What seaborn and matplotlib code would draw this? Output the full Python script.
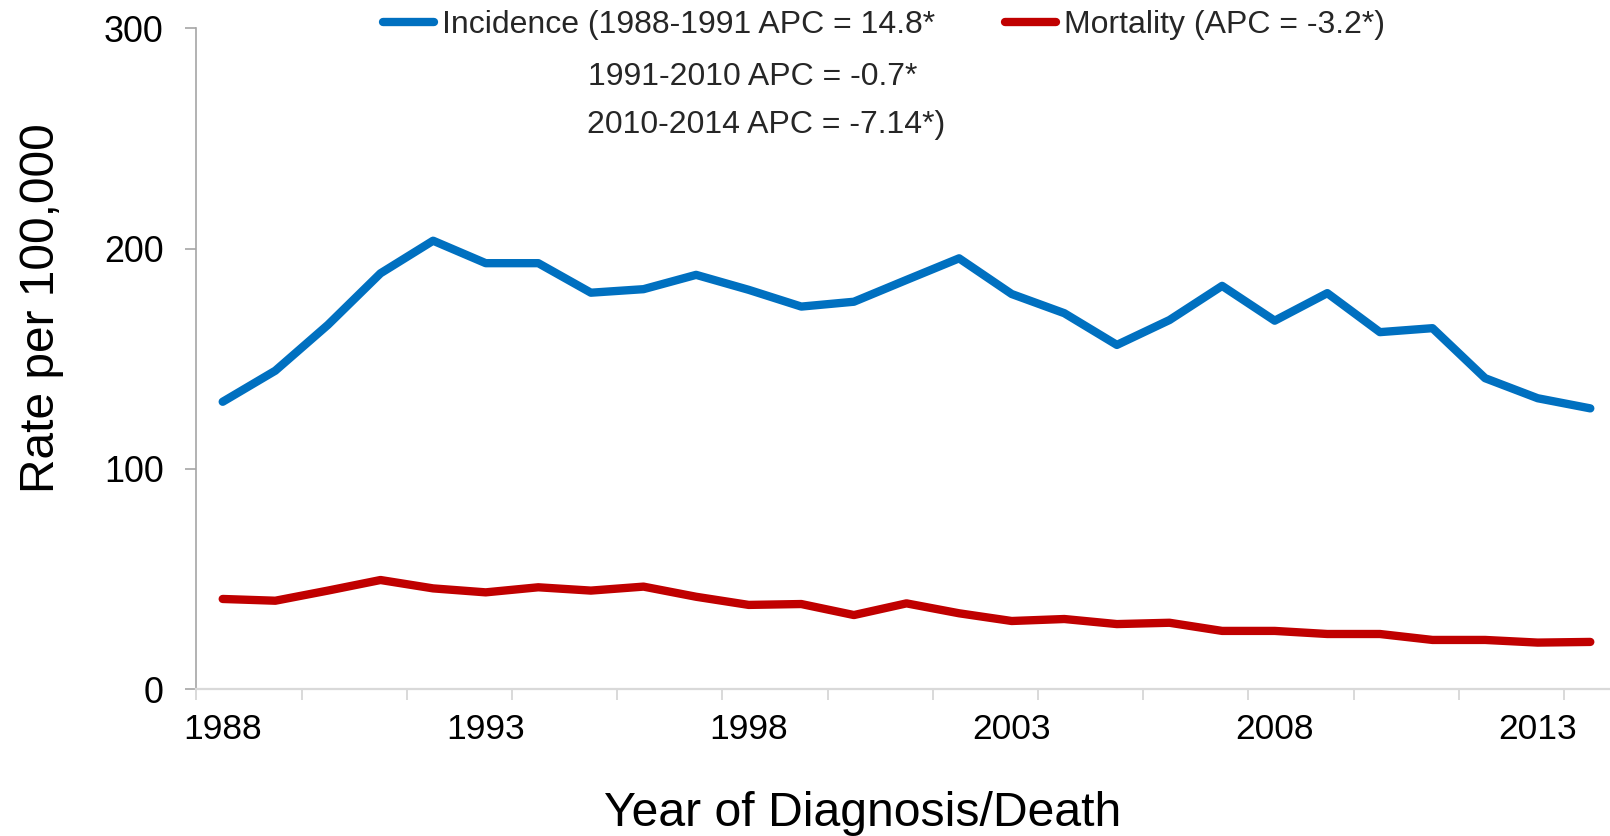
import matplotlib
matplotlib.use("Agg")
import matplotlib.pyplot as plt
from matplotlib.lines import Line2D
import seaborn as sns
import pandas as pd
import numpy as np

years = list(range(1988, 2015))
incidence = [130.5, 144.6, 165.4, 188.8, 203.6, 193.4, 193.4, 180.0, 181.6, 188.1,
             181.3, 173.7, 175.9, 185.8, 195.6, 179.4, 170.7, 156.3, 167.6, 183.1,
             167.3, 179.8, 162.1, 163.9, 141.2, 132.1, 127.5]
mortality = [41.0, 40.2, 44.8, 49.6, 45.8, 44.0, 46.3, 44.8, 46.6, 42.0,
             38.3, 38.7, 33.7, 39.0, 34.5, 31.0, 31.9, 29.6, 30.2, 26.5,
             26.5, 25.1, 25.1, 22.4, 22.4, 21.2, 21.5]
series_names = ["Incidence", "Mortality"]
legend_labels = ["Incidence (1988-1991 APC = 14.8*", "Mortality (APC = -3.2*)"]
legend_extra = ["1991-2010 APC = -0.7*", "2010-2014 APC = -7.14*)"]
xtick_labels = ["1988", "1993", "1998", "2003", "2008", "2013"]
yticks = [0, 100, 200, 300]
colors = ["#0070C0", "#C00000"]

sns.set_theme(style="white")
plt.rcParams["font.family"] = ["Liberation Sans", "DejaVu Sans"]

df = pd.DataFrame({
    "Year": years * 2,
    "Rate": incidence + mortality,
    "Series": [series_names[0]] * len(years) + [series_names[1]] * len(years),
})

W, H = 1610, 836
fig = plt.figure(figsize=(W / 100, H / 100), dpi=100)
x_left, y_top, y_bot = 196.4, 28.3, 689.3
ax = fig.add_axes([x_left / W, 1 - y_bot / H, (W - x_left) / W, (y_bot - y_top) / H])

sns.lineplot(data=df, x="Year", y="Rate", hue="Series", palette=colors,
             linewidth=6, legend=False, ax=ax,
             solid_capstyle="round", solid_joinstyle="round")

px_per_year = 52.6
ax.set_xlim(1987.5, 1987.5 + (W - x_left) / px_per_year)
ax.set_ylim(0, 300)

for s in ["top", "right"]:
    ax.spines[s].set_visible(False)
ax.spines["left"].set_color("#A6A6A6")
ax.spines["left"].set_linewidth(1.2)
ax.spines["bottom"].set_color("#D9D9D9")
ax.spines["bottom"].set_linewidth(1.6)

ax.set_yticks(yticks)
ax.set_yticklabels([str(v) for v in yticks])
ax.tick_params(axis="y", direction="out", length=8, width=1.2, color="#A6A6A6",
               labelsize=25.8, pad=15.5, left=True, labelcolor="black")

ax.set_xticks([int(t) for t in xtick_labels])
ax.set_xticklabels(xtick_labels)
ax.set_xticks(np.arange(1987.5, 2015, 2), minor=True)
ax.tick_params(axis="x", which="major", length=0, labelsize=25.5, pad=17, labelcolor="black")
ax.tick_params(axis="x", which="minor", direction="out", length=8, width=1.4,
               color="#D9D9D9", bottom=True)
ax.grid(False)

ax.set_ylabel("Rate per 100,000", fontsize=34.5, color="black", va="center", ha="center")
ax.yaxis.set_label_coords(42 / W, 1 - 308 / H, transform=fig.transFigure)
ax.set_xlabel("Year of Diagnosis/Death", fontsize=34.7, color="black", va="center", ha="center")
ax.xaxis.set_label_coords(863 / W, 1 - 814 / H, transform=fig.transFigure)

handles = [Line2D([0], [0], color=c, lw=6, solid_capstyle="round") for c in colors]
fig.legend(handles, legend_labels, loc="upper left", bbox_to_anchor=(383 / W, 1 - 10 / H),
           ncol=2, frameon=False, fontsize=23, handlelength=1.6, handletextpad=0.24,
           columnspacing=2.2, borderpad=0, borderaxespad=0)
fig.text(588.3 / W, 1 - 76.8 / H, legend_extra[0], fontsize=23, ha="left", va="center")
fig.text(587.3 / W, 1 - 125.2 / H, legend_extra[1], fontsize=23, ha="left", va="center")

fig.savefig("out.png", dpi=100)
